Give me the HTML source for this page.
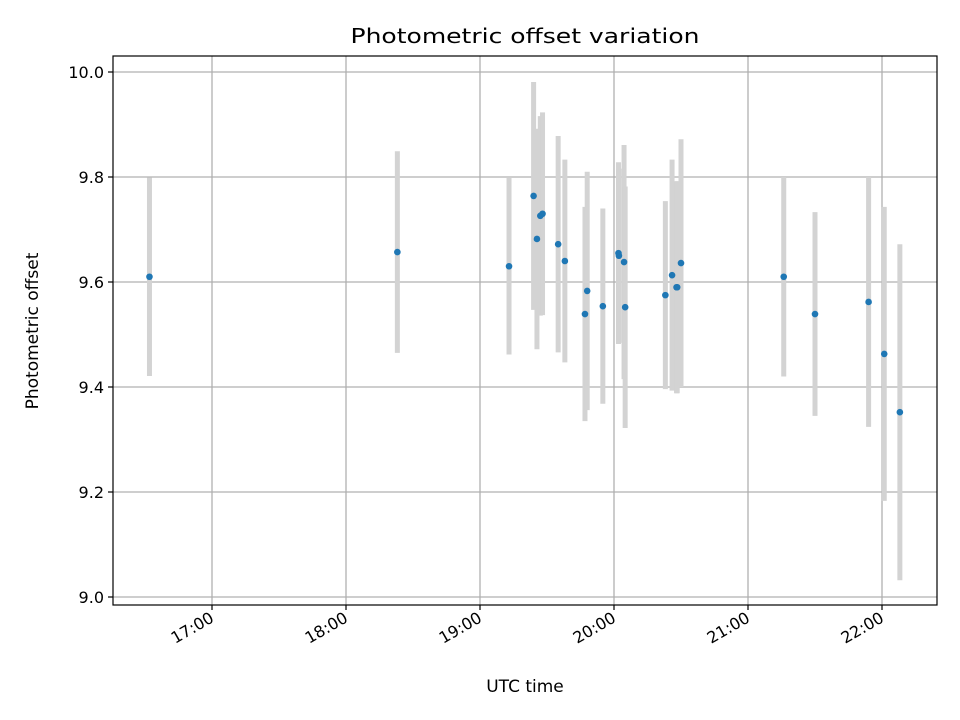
<!DOCTYPE html>
<html><head><meta charset="utf-8"><style>
body{margin:0;background:#fff;}
svg{display:block;font-family:"DejaVu Sans","Liberation Sans",sans-serif;}
</style></head><body>
<svg id="chart" width="960" height="720">
<rect x="0" y="0" width="960" height="720" fill="#fff"/>
<text x="525" y="43" font-size="20" text-anchor="middle" textLength="349" lengthAdjust="spacingAndGlyphs">Photometric offset variation</text>
<text x="525" y="692" font-size="17" text-anchor="middle">UTC time</text>
<text transform="translate(38,331) rotate(-90)" font-size="17" text-anchor="middle">Photometric offset</text>
<g id="grid"></g><g id="marks"></g><g id="axes"></g>
</svg>
<script>
const times = ["16:32","18:23","19:13","19:24","19:25.5","19:27","19:28","19:35","19:38","19:47","19:48","19:55","20:02","20:02.2","20:04.5","20:05","20:23","20:26","20:28","20:28.3","20:30","21:16","21:30","21:54","22:01","22:08"];
const offsets = [9.610,9.657,9.630,9.764,9.682,9.726,9.730,9.672,9.640,9.539,9.583,9.554,9.655,9.650,9.638,9.552,9.575,9.613,9.590,9.590,9.636,9.610,9.539,9.562,9.463,9.352];
const errors = [0.189,0.192,0.168,0.217,0.21,0.19,0.193,0.206,0.193,0.204,0.227,0.186,0.173,0.166,0.223,0.23,0.179,0.22,0.202,0.202,0.236,0.19,0.194,0.238,0.28,0.32];
const xTicks = ["17:00","18:00","19:00","20:00","21:00","22:00"];
const yTicks = [9.0,9.2,9.4,9.6,9.8,10.0];

const L=113,R=937,T=56,B=605;
function toH(s){const p=s.split(":");return +p[0]+(+p[1])/60;}
function xs(h){return 212+(h-17)*134;}
function ys(v){return 72+(10-v)*525;}
const NS="http://www.w3.org/2000/svg";
function mk(tag,attrs,parent){const e=document.createElementNS(NS,tag);for(const k in attrs)e.setAttribute(k,attrs[k]);parent.appendChild(e);return e;}
const grid=document.getElementById('grid'),marks=document.getElementById('marks'),axes=document.getElementById('axes');

xTicks.forEach(t=>{
  const x=xs(toH(t));
  const g=mk('line',{x1:x,x2:x,y1:T,y2:B,stroke:'#b0b0b0','stroke-width':1.3},grid);
  
  
  mk('line',{x1:x,x2:x,y1:B,y2:B+5,stroke:'#000','stroke-width':1.2},axes);
  const tx=mk('text',{x:x+3,y:B+16,'font-size':16,'text-anchor':'end',transform:`rotate(-30 ${x+3} ${B+16})`},axes);
  tx.textContent=t;
  
  
});
yTicks.forEach(v=>{
  const y=ys(v);
  const g=mk('line',{x1:L,x2:R,y1:y,y2:y,stroke:'#b0b0b0','stroke-width':1.3},grid);
  
  
  mk('line',{x1:L-5,x2:L,y1:y,y2:y,stroke:'#000','stroke-width':1.2},axes);
  const tx=mk('text',{x:L-9,y:y+6,'font-size':16,'text-anchor':'end'},axes);
  tx.textContent=v.toFixed(1);
  
  
});
const frame=mk('rect',{x:L,y:T,width:R-L,height:B-T,fill:'none',stroke:'#000','stroke-width':1.2},axes);



times.forEach((t,i)=>{
  const x=xs(toH(t));
  const b=mk('line',{x1:x,x2:x,y1:ys(offsets[i]+errors[i]),y2:ys(offsets[i]-errors[i]),stroke:'#d3d3d3','stroke-width':5},marks);
  
  
});
times.forEach((t,i)=>{
  const c=mk('circle',{cx:xs(toH(t)),cy:ys(offsets[i]),r:3.3,fill:'#1f77b4'},marks);
  
  
});
</script>
</body></html>
